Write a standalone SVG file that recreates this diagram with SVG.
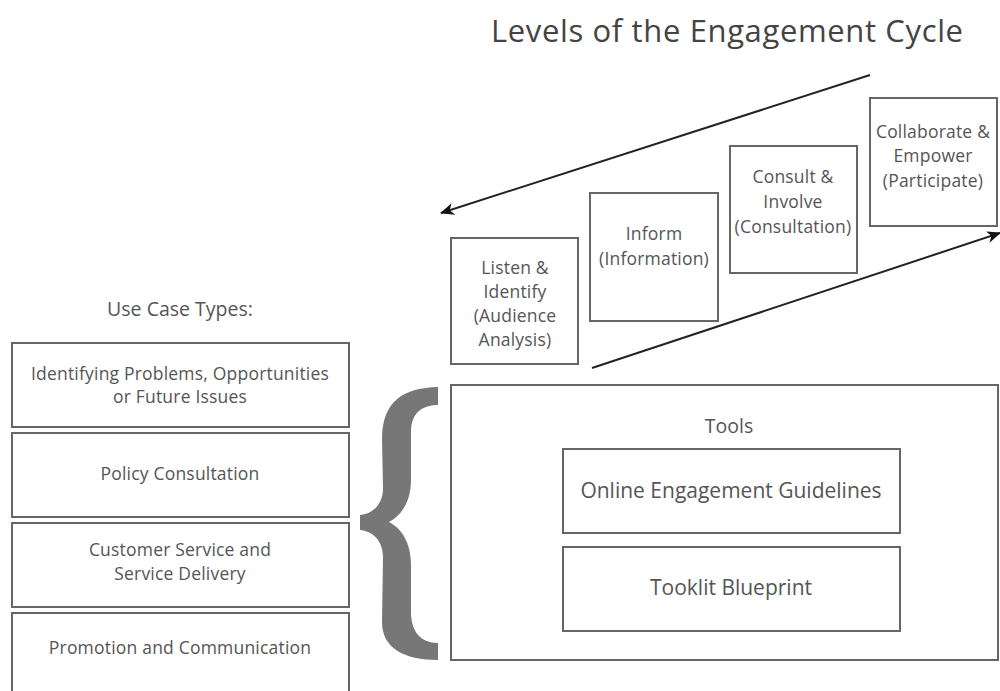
<svg xmlns="http://www.w3.org/2000/svg" width="1000" height="691" viewBox="0 0 1000 691">
<defs>
<style>
.box{fill:#fff;stroke:#666;stroke-width:2}
.t{font-family:"Open Sans","Noto Sans","Liberation Sans",sans-serif;fill:#555;text-anchor:middle}
.s16{font-size:17.5px;letter-spacing:0.2px}
.s17{font-size:19.5px}
.s20{font-size:21px}
.conn{stroke:#222;stroke-width:2;fill:none}
</style>
<marker id="ah" viewBox="0 0 14 12" refX="13" refY="6" markerWidth="14" markerHeight="12" markerUnits="userSpaceOnUse" orient="auto">
<path d="M0,0 L14,6 L0,12 L4,6 Z" fill="#111"/>
</marker>
</defs>
<rect width="1000" height="691" fill="#fff"/>

<text id="title" class="t" x="727" y="42" style="font-size:31px;fill:#444" textLength="472" lengthAdjust="spacing">Levels of the Engagement Cycle</text>

<g id="connectors">
<line class="conn" x1="870" y1="75" x2="441" y2="213" marker-end="url(#ah)"/>
<line class="conn" x1="592" y1="368" x2="1000" y2="233" marker-end="url(#ah)"/>
</g>

<g id="listen">
<rect class="box" x="451" y="238" width="127" height="126"/>
<text class="t s16" x="515" y="274">Listen &amp;</text>
<text class="t s16" x="515" y="298">Identify</text>
<text class="t s16" x="515" y="322">(Audience</text>
<text class="t s16" x="515" y="346">Analysis)</text>
</g>
<g id="inform">
<rect class="box" x="590" y="193" width="128" height="128"/>
<text class="t s16" x="654" y="240">Inform</text>
<text class="t s16" x="654" y="265">(Information)</text>
</g>
<g id="consult">
<rect class="box" x="730" y="146" width="127" height="127"/>
<text class="t s16" x="793" y="183">Consult &amp;</text>
<text class="t s16" x="793" y="208">Involve</text>
<text class="t s16" x="793" y="233">(Consultation)</text>
</g>
<g id="collaborate">
<rect class="box" x="870" y="98" width="127" height="128"/>
<text class="t s16" x="933" y="138">Collaborate &amp;</text>
<text class="t s16" x="933" y="162">Empower</text>
<text class="t s16" x="933" y="187">(Participate)</text>
</g>

<text id="usecase-title" class="t s17" x="180" y="316">Use Case Types:</text>
<g id="uc1">
<rect class="box" x="12" y="343" width="337" height="84"/>
<text class="t s16" x="180" y="380">Identifying Problems, Opportunities</text>
<text class="t s16" x="180" y="403">or Future Issues</text>
</g>
<g id="uc2">
<rect class="box" x="12" y="433" width="337" height="84"/>
<text class="t s16" x="180" y="480">Policy Consultation</text>
</g>
<g id="uc3">
<rect class="box" x="12" y="523" width="337" height="84"/>
<text class="t s16" x="180" y="556">Customer Service and</text>
<text class="t s16" x="180" y="580">Service Delivery</text>
</g>
<g id="uc4">
<rect class="box" x="12" y="613" width="337" height="90"/>
<text class="t s16" x="180" y="654">Promotion and Communication</text>
</g>

<g id="brace">
<path fill="#777" d="M438,387 C404,388 382,400 382,440 L383,488 C383,505 372,514 360,515 L360,530 C372,531 383,540 383,557 L382,622 C382,648 404,660 438,660 L438,643 C421,643 411,632 411,612 L411,565 C411,542 401,528 389,522 C401,516 411,502 411,480 L411,432 C411,414 421,405 438,405 Z"/>
</g>

<g id="tools">
<rect class="box" x="451" y="385" width="547" height="275"/>
<text class="t" x="729" y="433" style="font-size:19.5px">Tools</text>
</g>
<g id="guidelines">
<rect class="box" x="563" y="449" width="337" height="84"/>
<text class="t s20" x="731" y="498">Online Engagement Guidelines</text>
</g>
<g id="blueprint">
<rect class="box" x="563" y="547" width="337" height="84"/>
<text class="t s20" x="731" y="595">Tooklit Blueprint</text>
</g>
</svg>
